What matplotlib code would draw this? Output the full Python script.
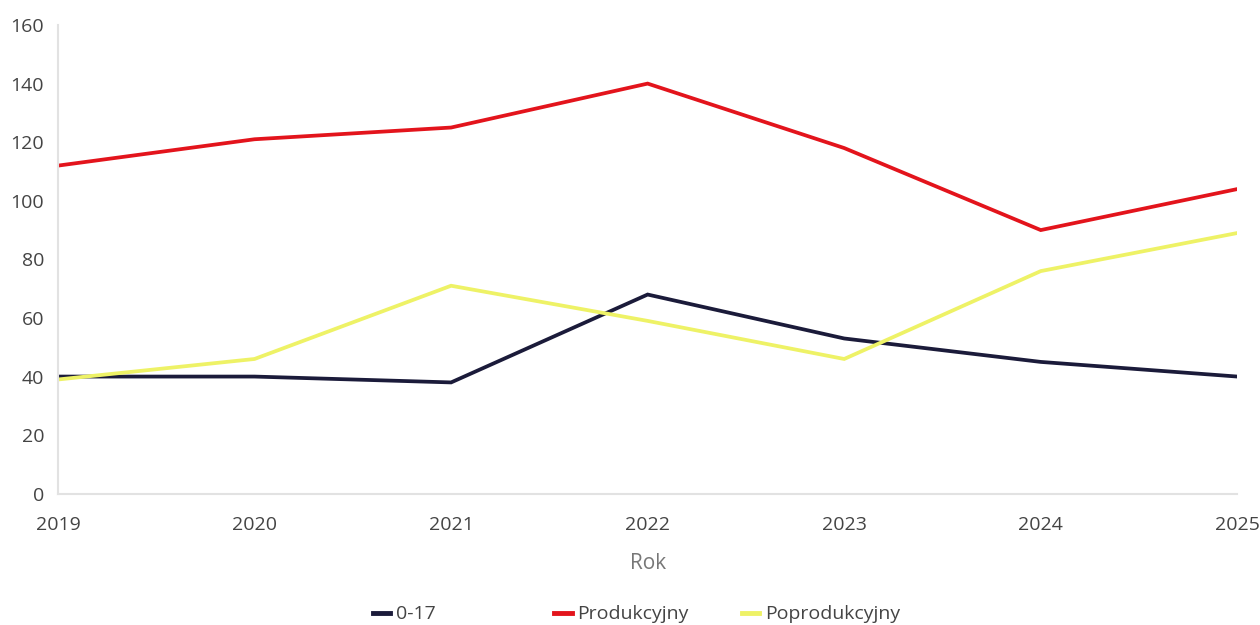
import matplotlib
matplotlib.use("Agg")
import matplotlib.pyplot as plt

plt.rcParams['font.family'] = ['Open Sans', 'DejaVu Sans']

years = [2019, 2020, 2021, 2022, 2023, 2024, 2025]
age_0_17 = [40, 40, 38, 68, 53, 45, 40]
produkcyjny = [112, 121, 125, 140, 118, 90, 104]
poprodukcyjny = [39, 46, 71, 59, 46, 76, 89]

series_names = ["0-17", "Produkcyjny", "Poprodukcyjny"]
series_colors = ["#1b1b3a", "#e3141c", "#eef266"]

fig = plt.figure(figsize=(12.6, 6.25), dpi=100)
ax = fig.add_axes([0.046, 0.21, 0.936, 0.75])

for vals, name, col in zip([age_0_17, produkcyjny, poprodukcyjny], series_names, series_colors):
    ax.plot(years, vals, color=col, lw=2.7, label=name, solid_joinstyle="miter")

ax.set_xlim(years[0], years[-1])
ax.set_ylim(0, 160)
ax.set_yticks(range(0, 161, 20))
ax.set_xticks(years)

for side in ["top", "right"]:
    ax.spines[side].set_visible(False)
for side in ["left", "bottom"]:
    ax.spines[side].set_color("#e2e2e2")
    ax.spines[side].set_linewidth(1.5)

ax.tick_params(axis="both", length=0, labelsize=14, colors="#444444")
ax.tick_params(axis="y", pad=10)
ax.tick_params(axis="x", pad=16)

ax.set_xlabel("Rok", fontsize=15, color="#777777", labelpad=14)

# legend items sit at their own spots, like in the reference
handles, labels = ax.get_legend_handles_labels()
legend_x = [0.288, 0.432, 0.581]
for h, lab, lx in zip(handles, labels, legend_x):
    leg = fig.legend([h], [lab], loc="center left", bbox_to_anchor=(lx, 0.017),
                     frameon=False, fontsize=14, handlelength=0.9,
                     handletextpad=0.3, labelcolor="#444444", borderpad=0)
    leg.get_lines()[0].set_linewidth(3.5)

fig.savefig("out.png", dpi=100)
